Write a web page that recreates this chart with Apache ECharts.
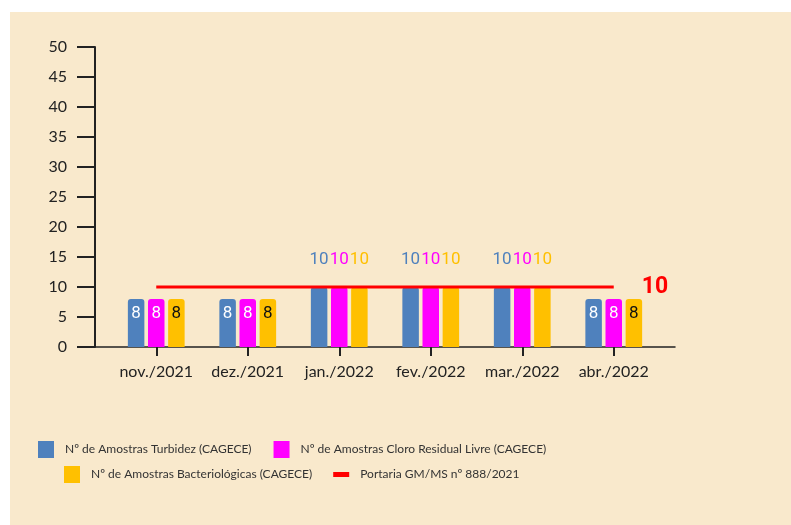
<!DOCTYPE html>
<html>
<head>
<meta charset="utf-8">
<script src="https://cdn.jsdelivr.net/npm/echarts@6/dist/echarts.min.js"></script>
<style>
html,body{margin:0;padding:0;background:#fff;}
#c{width:791px;height:525px;}
</style>
</head>
<body>
<div id="c"></div>
<script>
const categories = ['nov./2021', 'dez./2021', 'jan./2022', 'fev./2022', 'mar./2022', 'abr./2022'];
const turbidez = [8, 8, 10, 10, 10, 8];
const cloro = [8, 8, 10, 10, 10, 8];
const bacterio = [8, 8, 10, 10, 10, 8];
const portaria = [10, 10, 10, 10, 10, 10];
const seriesNames = [
  'Nº de Amostras Turbidez (CAGECE)',
  'Nº de Amostras Cloro Residual Livre (CAGECE)',
  'Nº de Amostras Bacteriológicas (CAGECE)',
  'Portaria GM/MS nº 888/2021'
];
const yMin = 0, yMax = 50, yStep = 5;

const colors = ['#4F81BD', '#FF00FF', '#FFC000', '#FF0000'];
const insideText = ['#ffffff', '#ffffff', '#111111'];
const FONT = 'Lato';

function barData(vals, idx) {
  return vals.map(v => ({
    value: v,
    label: v >= 10
      ? { position: 'top', distance: 19, color: colors[idx] }
      : { position: 'insideTop', distance: 6, color: insideText[idx] }
  }));
}

function barSeries(name, vals, idx) {
  return {
    name: name,
    type: 'bar',
    xAxisIndex: 0, yAxisIndex: 0,
    barWidth: 16.5,
    barGap: '22%',
    itemStyle: { color: colors[idx], borderRadius: [3, 3, 0, 0] },
    label: { show: true, fontFamily: 'Roboto', fontSize: 17 },
    data: barData(vals, idx),
    z: 2
  };
}

const chart = echarts.init(document.getElementById('c'), null, { renderer: 'canvas' });
chart.setOption({
  animation: false,
  backgroundColor: '#ffffff',
  graphic: [{
    type: 'rect', left: 10, top: 12, z: -10,
    shape: { width: 781, height: 513 },
    style: { fill: '#F9E9CC' }
  }],
  grid: [
    { left: 110.5, right: 131.5, top: 47, bottom: 178 },
    { left: 95, right: 116, top: 47, bottom: 178 }
  ],
  xAxis: [
    {
      type: 'category', gridIndex: 0, data: categories,
      axisLine: { show: false },
      axisTick: { show: true, alignWithLabel: true, length: 9, lineStyle: { color: '#222', width: 2 } },
      axisLabel: { interval: 0, margin: 17, fontFamily: FONT, fontSize: 16, color: '#222' }
    },
    {
      type: 'category', gridIndex: 0, data: categories, position: 'bottom',
      axisLine: { show: false },
      axisTick: { show: true, inside: true, alignWithLabel: true, length: 9, lineStyle: { color: '#222', width: 2 } },
      axisLabel: { show: false }
    },
    {
      type: 'value', gridIndex: 1, min: 0, max: 1,
      axisLine: { show: true, lineStyle: { color: '#222', width: 1.5 } },
      axisTick: { show: false }, axisLabel: { show: false }, splitLine: { show: false }
    }
  ],
  yAxis: [
    {
      type: 'value', gridIndex: 0, min: yMin, max: yMax, interval: yStep, offset: 15.5,
      axisLine: { show: true, lineStyle: { color: '#222', width: 2 } },
      axisTick: { show: true, length: 18, lineStyle: { color: '#222', width: 2 } },
      axisLabel: { margin: 28, fontFamily: FONT, fontSize: 16, color: '#222' },
      splitLine: { show: false }
    },
    {
      type: 'value', gridIndex: 1, min: 0, max: 1, show: false
    }
  ],
  legend: [
    {
      left: 38, top: 441, padding: 0, itemWidth: 16, itemHeight: 17, itemGap: 22,
      icon: 'rect',
      textStyle: { fontFamily: FONT, fontSize: 12, color: '#333', padding: [0, 0, 0, 6] },
      data: [seriesNames[0], seriesNames[1]]
    },
    {
      left: 64, top: 466, padding: 0, itemWidth: 16, itemHeight: 17, itemGap: 21,
      textStyle: { fontFamily: FONT, fontSize: 12, color: '#333', padding: [0, 0, 0, 6] },
      data: [
        { name: seriesNames[2], icon: 'rect' },
        { name: seriesNames[3], icon: 'path://M0,0h16v5h-16z' }
      ]
    }
  ],
  series: [
    barSeries(seriesNames[0], turbidez, 0),
    barSeries(seriesNames[1], cloro, 1),
    barSeries(seriesNames[2], bacterio, 2),
    {
      name: seriesNames[3],
      type: 'line',
      xAxisIndex: 0, yAxisIndex: 0,
      symbol: 'none',
      lineStyle: { color: colors[3], width: 3 },
      itemStyle: { color: colors[3] },
      z: 5,
      endLabel: { show: true, distance: 28, color: colors[3], fontFamily: 'Roboto', fontWeight: 'bold', fontSize: 23 },
      data: portaria
    }
  ]
});
</script>
</body>
</html>
